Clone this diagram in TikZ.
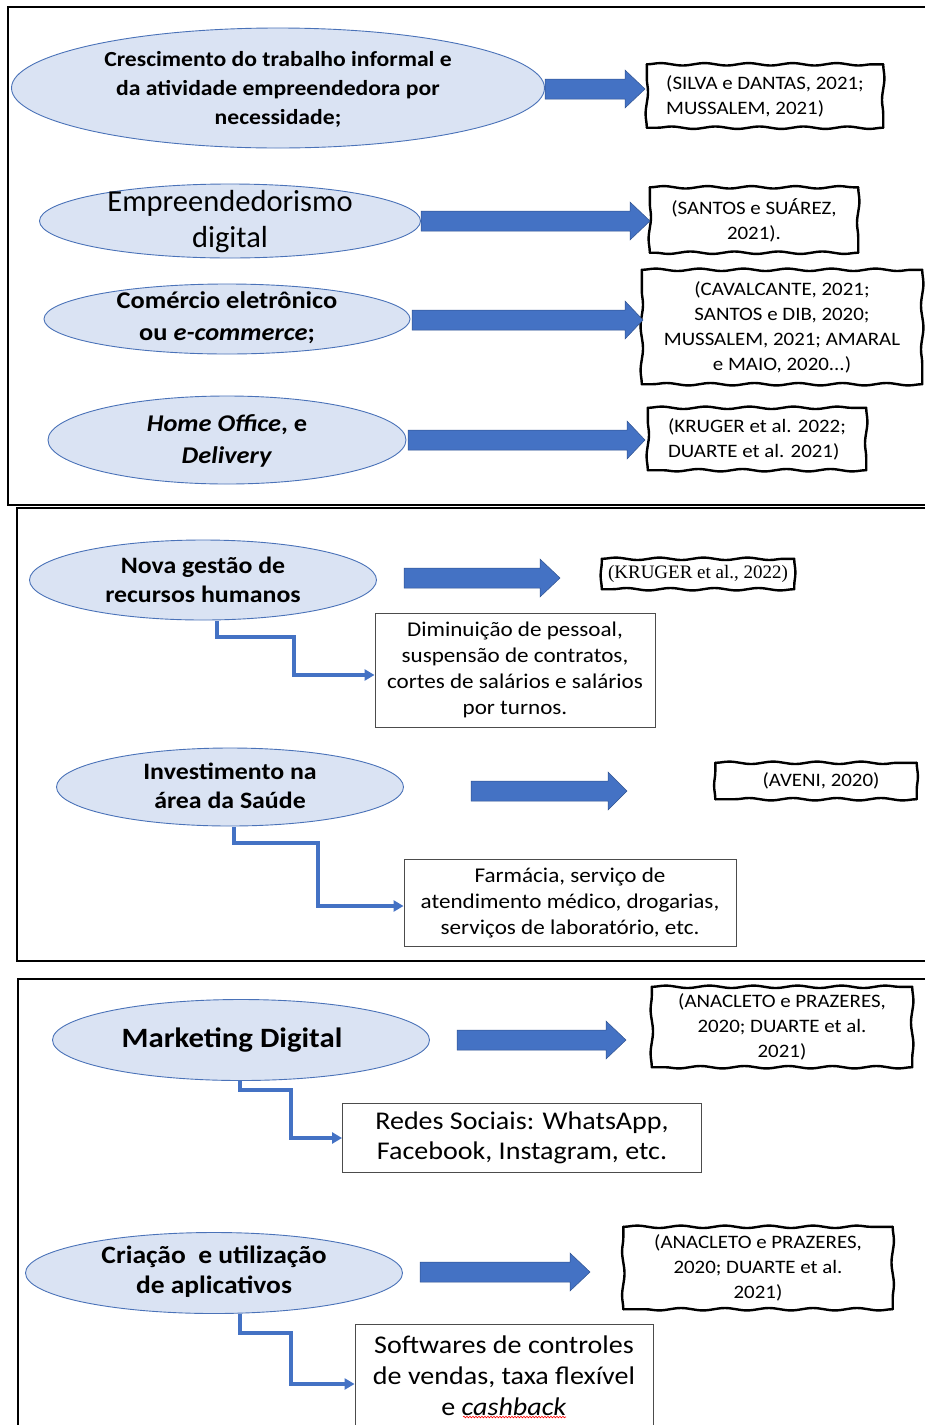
\documentclass[tikz,border=0pt]{standalone}
\usepackage{fontspec}
\setmainfont{Carlito}[FakeStretch=1.1]
\newfontfamily\plainf{Carlito}
\newfontfamily\timesf{Liberation Serif}
\usetikzlibrary{shapes.geometric,decorations.pathmorphing,arrows.meta,calc}
\definecolor{ellfill}{HTML}{DAE3F3}
\definecolor{elldraw}{HTML}{4A72B8}
\definecolor{arrblue}{HTML}{4472C4}
\definecolor{arrdraw}{HTML}{2F528F}
\newcommand{\fsz}[2]{\fontsize{#1}{#2}\selectfont}
\newcommand{\blockarr}[4]{%
  \filldraw[fill=arrblue, draw=arrdraw, line width=0.5pt]
    (#1,{#4-10}) -- (#2,{#4-10}) -- (#2,{#4-19}) -- (#3,#4) -- (#2,{#4+19}) -- (#2,{#4+10}) -- (#1,{#4+10}) -- cycle;}
\newcommand{\wavybox}[1]{%
  \draw[wavy] (#1.north west) -- (#1.north east);
  \draw[wavy] (#1.north east) -- (#1.south east);
  \draw[wavy] (#1.south east) -- (#1.south west);
  \draw[wavy] (#1.south west) -- (#1.north west);}
\tikzset{
  ell/.style={ellipse, draw=elldraw, fill=ellfill, line width=0.9pt, inner sep=0pt},
  etext/.style={align=center, inner sep=0pt, font=\bfseries\fsz{23.5}{29}},
  cite/.style={align=center, inner sep=0pt, font=\fsz{19}{25}},
  wavy/.style={draw=black, line width=2.4pt, line cap=round, decorate,
     decoration={snake, amplitude=1.2pt, segment length=44pt}},
  plainbox/.style={draw=black!70, line width=0.9pt, align=center, inner sep=0pt, font=\fsz{21}{26}},
  conn/.style={draw=arrblue, line width=3.4pt, -{Triangle[length=10pt,width=11pt]}},
  frame/.style={draw=black, line width=2pt}
}
\begin{document}
\begin{tikzpicture}[x=1pt, y=-1pt]
\useasboundingbox (0,0) rectangle (925,1425);

% frames
\draw[frame] (925,7) -- (8,7) -- (8,505) -- (925,505);
\draw[frame] (925,508) -- (17,508) -- (17,961) -- (925,961);
\draw[frame] (925,979) -- (18,979) -- (18,1430);

% ---------- Section 1 ----------
\node[ell, minimum width=533pt, minimum height=120pt] (e1) at (278,88) {};
\node[etext, font=\bfseries\fsz{21.5}{29}] (t1) at (278,89) {Crescimento do trabalho informal e\\da atividade empreendedora por\\necessidade;};

\node[ell, minimum width=381pt, minimum height=74pt] (e2) at (230,221) {};
\node[etext, font=\plainf\fsz{30.5}{36}] (t2) at (230,222) {Empreendedorismo\\digital};

\node[ell, minimum width=366pt, minimum height=70pt] (e3) at (227,319) {};
\node[etext, font=\bfseries\fsz{24}{32}] (t3) at (227,318) {Comércio eletrônico\\ou \textit{e-commerce};};

\node[ell, minimum width=358pt, minimum height=88pt] (e4) at (227,440) {};
\node[etext, font=\bfseries\fsz{24}{32}] (t4) at (227,441) {\textit{Home Office}, e\\\textit{Delivery}};

\node[cite, align=left, minimum width=236pt, minimum height=63pt] (c1) at (765,96) {(SILVA e DANTAS, 2021;\\MUSSALEM, 2021)};
\node[cite, minimum width=208pt, minimum height=65pt] (c2) at (754,220) {(SANTOS e SUÁREZ,\\2021).};
\node[cite, minimum width=280pt, minimum height=114pt] (c3) at (782,327) {(CAVALCANTE, 2021;\\SANTOS e DIB, 2020;\\MUSSALEM, 2021; AMARAL\\e MAIO, 2020...)};
\node[cite, align=left, minimum width=218pt, minimum height=62pt] (c4) at (757,439) {(KRUGER et al. 2022;\\DUARTE et al. 2021)};
\wavybox{c1}\wavybox{c2}\wavybox{c3}\wavybox{c4}

\blockarr{545}{625}{645}{89}
\blockarr{421}{630}{650}{221}
\blockarr{412}{625}{643}{320}
\blockarr{408}{627}{645}{440}

% ---------- Section 2 ----------
\node[ell, minimum width=347pt, minimum height=80pt] (e5) at (203,580) {};
\node[etext] (t5) at (203,580) {Nova gestão de\\recursos humanos};

\node[cite, minimum width=192pt, minimum height=30pt, font=\timesf\fsz{19}{20}] (c5) at (698,574) {(KRUGER et al., 2022)};
\wavybox{c5}
\blockarr{404}{540}{560}{578}

\node[plainbox, minimum width=280pt, minimum height=114pt] (r1) at (515,670) {Diminuição de pessoal,\\suspensão de contratos,\\cortes de salários e salários\\por turnos.};
\draw[conn] (217,621) -- (217,637) -- (294,637) -- (294,675) -- (r1.west |- 0,675);

\node[ell, minimum width=347pt, minimum height=78pt] (e6) at (230,787) {};
\node[etext] (t6) at (230,786) {Investimento na\\área da Saúde};

\node[cite, minimum width=201pt, minimum height=36pt] (c6) at (816,781) {\hspace*{10pt}(AVENI, 2020)};
\wavybox{c6}
\blockarr{471}{608}{627}{791}

\node[plainbox, minimum width=332pt, minimum height=87pt] (r2) at (570,903) {Farmácia, serviço de\\atendimento médico, drogarias,\\serviços de laboratório, etc.};
\draw[conn] (234,827) -- (234,843) -- (318,843) -- (318,906) -- (r2.west |- 0,906);

% ---------- Section 3 ----------
\node[ell, minimum width=377pt, minimum height=81pt] (e7) at (241,1040) {};
\node[etext, font=\bfseries\fsz{28}{30}] (t7) at (232,1040) {Marketing Digital};

\node[cite, minimum width=260pt, minimum height=80pt] (c7) at (782,1027) {(ANACLETO e PRAZERES,\\2020; DUARTE et al.\\2021)};
\wavybox{c7}
\blockarr{457}{606}{626}{1040}

\node[plainbox, font=\fsz{25.5}{30}, minimum width=359pt, minimum height=69pt] (r3) at (522,1138) {Redes Sociais: WhatsApp,\\Facebook, Instagram, etc.};
\draw[conn] (240,1081) -- (240,1090) -- (291,1090) -- (291,1138) -- (r3.west);

\node[ell, minimum width=377pt, minimum height=81pt] (e8) at (214,1273) {};
\node[etext, font=\bfseries\fsz{25}{30}] (t8) at (214,1272) {Criação\ \ e utilização\\de aplicativos};

\node[cite, minimum width=269pt, minimum height=82pt] (c8) at (758,1268) {(ANACLETO e PRAZERES,\\2020; DUARTE et al.\\2021)};
\wavybox{c8}
\blockarr{420}{570}{590}{1272}

\node[plainbox, font=\fsz{25.5}{31}, minimum width=298pt, minimum height=104pt] (r4) at (504,1376) {Softwares de controles\\de vendas, taxa flexível\\e \textit{cashback}};
\draw[conn] (240,1314) -- (240,1333) -- (291,1333) -- (291,1384) -- (r4.west |- 0,1384);
\draw[red, line width=0.6pt, decorate, decoration={snake, amplitude=0.8pt, segment length=3pt}] (463,1417) -- (566,1417);

\end{tikzpicture}
\end{document}
